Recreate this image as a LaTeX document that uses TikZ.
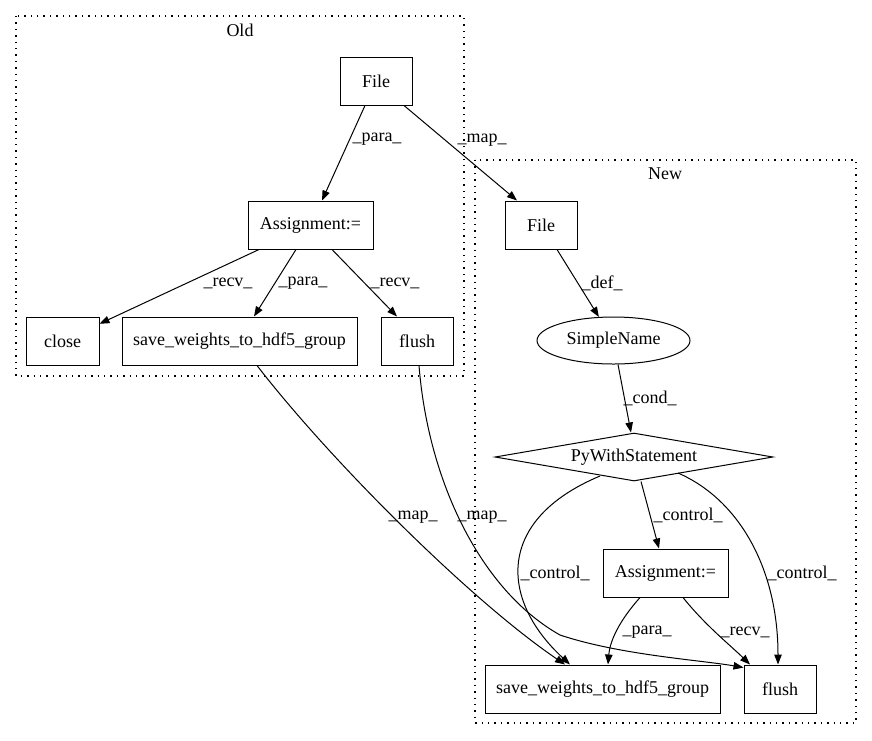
\documentclass[tikz,border=0pt]{standalone}
\usepackage{fontspec}
\setmainfont{Liberation Serif}
\usetikzlibrary{shapes.geometric,arrows.meta,calc}
\tikzset{
  base/.style={font=\fontsize{18}{20}\selectfont, inner sep=0pt},
  box/.style={base, draw, line width=1pt, rectangle, minimum height=48pt},
  ell/.style={base, draw, line width=1pt, ellipse, minimum width=153pt, minimum height=47pt},
  dia/.style={base, draw, line width=1pt, diamond, shape aspect=5.8, minimum width=278pt, minimum height=48pt},
  lbl/.style={base},
  edge/.style={line width=1pt, -{Triangle[length=10pt,width=7.5pt]}},
  cluster/.style={line width=1.2pt, dash pattern=on 1.4pt off 5pt}
}
\begin{document}
\begin{tikzpicture}[x=1pt,y=-1pt]
\useasboundingbox (0,0) rectangle (872,740);
% clusters
\draw[cluster] (16,16) rectangle (464,376);
\node[lbl] (oldlbl) at (240,30) {Old};
\draw[cluster] (475,160) rectangle (856,723);
\node[lbl] (newlbl) at (665,174) {New};
% old nodes
\node[box, minimum width=72pt] (fo) at (376,81) {File};
\node[box, minimum width=125pt] (ao) at (310.5,225) {Assignment:=};
\node[box, minimum width=73pt] (co) at (62.5,341) {close};
\node[box, minimum width=235pt] (so) at (239.5,341) {save\_weights\_to\_hdf5\_group};
\node[box, minimum width=72pt] (flo) at (417,341) {flush};
% new nodes
\node[box, minimum width=72pt] (fn) at (541,225) {File};
\node[ell] (sn) at (613.5,340.5) {SimpleName};
\node[dia] (pw) at (634,457) {PyWithStatement};
\node[box, minimum width=125pt] (an) at (665.5,573) {Assignment:=};
\node[box, minimum width=235pt] (sv) at (602.5,689) {save\_weights\_to\_hdf5\_group};
\node[box, minimum width=72pt] (fl) at (780,689) {flush};
% old edges
\draw[edge] ([xshift=-11pt]fo.south) -- ([xshift=11.5pt]ao.north);
\node[lbl] (l1) at (377,139) {\_para\_};
\draw[edge] ([xshift=28pt]fo.south) -- ([xshift=-24pt]fn.north);
\node[lbl] (l2) at (482,140) {\_map\_};
\draw[edge] ([xshift=-51.5pt]ao.south) -- (co);
\node[lbl] (l3) at (228,283) {\_recv\_};
\draw[edge] ([xshift=-14.5pt]ao.south) -- ([xshift=14.5pt]so.north);
\node[lbl] (l4) at (303,283) {\_para\_};
\draw[edge] ([xshift=21.5pt]ao.south) -- ([xshift=-20pt]flo.north);
\node[lbl] (l5) at (395,283) {\_recv\_};
% new edges
\draw[edge] ([xshift=16pt]fn.south) -- (sn);
\node[lbl] (l6) at (602,283) {\_def\_};
\draw[edge] ([xshift=4.5pt]sn.south) -- ([xshift=-3pt]pw.north);
\node[lbl] (l7) at (650,398) {\_cond\_};
\draw[edge] ([xshift=7pt]pw.south) -- ([xshift=-6.5pt]an.north);
\node[lbl] (l8) at (688,515) {\_control\_};
\draw[edge] ($(pw)+(-34,19)$) .. controls (495,520) and (500,600) .. ([xshift=-32.5pt]sv.north);
\node[lbl] (l9) at (555,573) {\_control\_};
\draw[edge] ($(pw)+(44,16)$) .. controls (740,500) and (778,570) .. ([xshift=-2pt]fl.north);
\node[lbl] (l10) at (802,573) {\_control\_};
\draw[edge] ([xshift=-25.5pt]an.south) .. controls (620,620) and (610,640) .. ([xshift=5.5pt]sv.north);
\node[lbl] (l11) at (647,632) {\_para\_};
\draw[edge] ([xshift=17.5pt]an.south) .. controls (705,625) and (730,645) .. ([xshift=-30pt]fl.north);
\node[lbl] (l12) at (745,632) {\_recv\_};
% map edges
\draw[edge] ([xshift=17.5pt]so.south) .. controls (330,460) and (470,600) .. ([xshift=-37.5pt]sv.north);
\node[lbl] (l13) at (413,517) {\_map\_};
\draw[edge] ([xshift=2pt]flo.south) .. controls (428,480) and (480,590) .. (560,635) .. controls (620,655) and (700,660) .. ($(fl.north west)+(0,3)$);
\node[lbl] (l14) at (482,517) {\_map\_};
\end{tikzpicture}
\end{document}
